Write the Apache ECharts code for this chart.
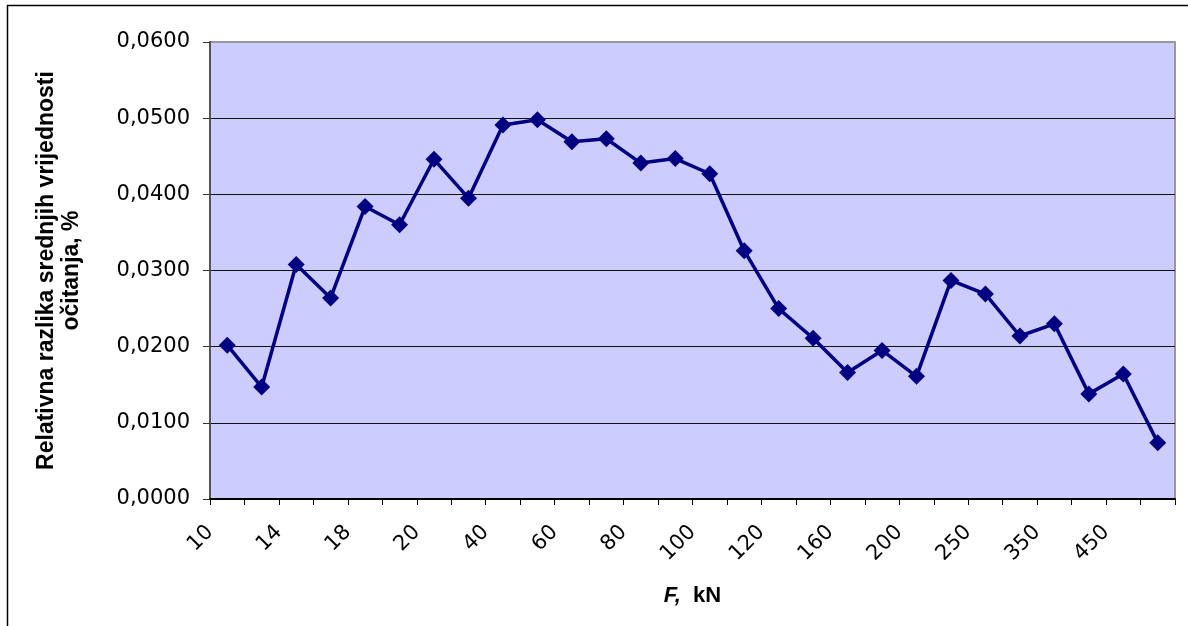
<!DOCTYPE html>
<html>
<head>
<meta charset="utf-8">
<script src="https://cdn.jsdelivr.net/npm/echarts@6/dist/echarts.min.js"></script>
<style>
html,body{margin:0;padding:0;background:#fff;}
#chart{width:1188px;height:626px;}
</style>
</head>
<body>
<div id="chart"></div>
<script>
// F, kN categories (every other one is labelled on the axis)
const categories = ['10','12','14','16','18','19','20','30','40','50','60','70','80','90','100','110','120','140','160','180','200','225','250','300','350','400','450','500'];
// Relativna razlika srednjih vrijednosti očitanja, %
const values = [0.0202,0.0147,0.0308,0.0264,0.0384,0.0360,0.0446,0.0395,0.0491,0.0498,0.0469,0.0473,0.0441,0.0447,0.0427,0.0326,0.0250,0.0211,0.0166,0.0195,0.0161,0.0287,0.0269,0.0214,0.0230,0.0138,0.0164,0.0074];
// tick labels sit on category boundaries: every second boundary gets the category's value
const xTickLabels = categories.map((c, i) => (i % 2 === 0 ? c : '')).concat(['']);
const yMin = 0, yMax = 0.06, yStep = 0.01;
const yTitle = 'Relativna razlika srednjih vrijednosti\nočitanja, %';

const chart = echarts.init(document.getElementById('chart'), null, {renderer: 'canvas'});
const tickFont = {fontFamily: 'DejaVu Sans', fontSize: 21, color: '#000'};

chart.setOption({
  animation: false,
  backgroundColor: '#fff',
  grid: {
    left: 210, right: 13, top: 42, bottom: 127,
    show: true, backgroundColor: '#CCCCFF', borderColor: '#999999', borderWidth: 2
  },
  xAxis: [
    {
      type: 'category', data: categories, boundaryGap: true, position: 'bottom',
      axisLine: {show: true, lineStyle: {color: '#000', width: 2}},
      axisTick: {show: true, interval: 0, length: 6, lineStyle: {color: '#000', width: 1}},
      axisLabel: {show: false},
      splitLine: {show: false},
      name: '{i|F,}{b|  kN}', nameLocation: 'middle', nameGap: 86,
      nameTextStyle: {
        rich: {
          i: {fontFamily: 'Liberation Sans', fontWeight: 'bold', fontStyle: 'italic', fontSize: 22, color: '#000'},
          b: {fontFamily: 'Liberation Sans', fontWeight: 'bold', fontSize: 22, color: '#000'}
        }
      }
    },
    {
      type: 'category', data: xTickLabels, boundaryGap: false, position: 'bottom',
      axisLine: {show: false}, axisTick: {show: false}, splitLine: {show: false},
      axisLabel: Object.assign({interval: 0, rotate: 45, margin: 30}, tickFont)
    }
  ],
  yAxis: {
    type: 'value', min: yMin, max: yMax, interval: yStep,
    axisLine: {show: true, lineStyle: {color: '#555', width: 2}},
    axisTick: {show: true, length: 7, lineStyle: {color: '#333', width: 1}},
    axisLabel: Object.assign({margin: 20, formatter: v => v.toFixed(4).replace('.', ',')}, tickFont),
    splitLine: {show: true, lineStyle: {color: ['#111','#111','#111','#111','#111','#111','#999999'], width: 1.2}},
    name: yTitle, nameLocation: 'middle', nameRotate: 90, nameGap: 126,
    nameTextStyle: {fontFamily: 'Liberation Sans', fontWeight: 'bold', fontSize: 23, lineHeight: 25, color: '#000', align: 'center'}
  },
  graphic: [
    {type: 'line', shape: {x1: 7, y1: 5.5, x2: 1188, y2: 5.5}, style: {stroke: '#000', lineWidth: 1.5}, silent: true},
    {type: 'line', shape: {x1: 7.5, y1: 5, x2: 7.5, y2: 626}, style: {stroke: '#000', lineWidth: 1.5}, silent: true}
  ],
  series: [{
    type: 'line', data: values, xAxisIndex: 0, yAxisIndex: 0,
    lineStyle: {color: '#000080', width: 3.5},
    itemStyle: {color: '#000080'},
    symbol: 'diamond', symbolSize: 17, showSymbol: true
  }]
});
</script>
</body>
</html>
